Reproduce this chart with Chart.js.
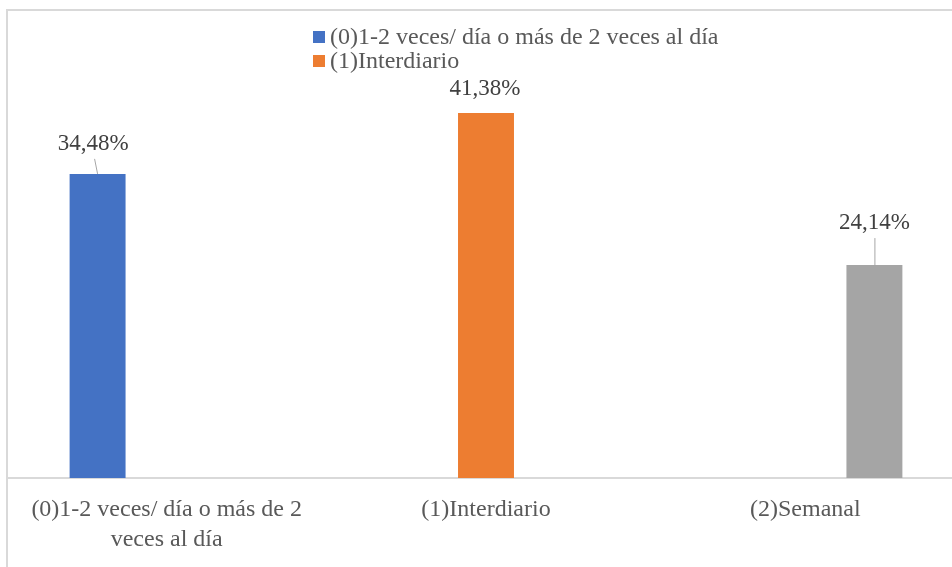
<!DOCTYPE html>
<html>
<head>
<meta charset="utf-8">
<script src="https://cdn.jsdelivr.net/npm/chart.js@4/dist/chart.umd.min.js"></script>
<style>
  html, body { margin: 0; padding: 0; background: #fff; width: 952px; height: 567px; overflow: hidden; }
  #frame { position: absolute; left: 6px; top: 9px; width: 1200px; height: 800px; border: 2px solid #d9d9d9; box-sizing: border-box; }
  #c { position: absolute; left: 0; top: 0; }
</style>
</head>
<body>
<div id="frame"></div>
<canvas id="c" width="990" height="567"></canvas>
<script>
// Frecuencia de consumo (% de encuestados)
const categories = [
  ['(0)1-2 veces/ día o más de 2', 'veces al día'],
  '(1)Interdiario',
  '(2)Semanal'
];
const seriesNames = [
  '(0)1-2 veces/ día o más de 2 veces al día',
  '(1)Interdiario',
  '(2)Semanal'
];
const frecuenteValues   = [34.48, null, null];
const interdiarioValues = [null, 41.38, null];
const semanalValues     = [null, null, 24.14];
const seriesColors = ['#4472C4', '#ED7D31', '#A5A5A5'];

const SERIF = "'Liberation Serif', 'Times New Roman', serif";

// Labels sit above each bar; long gaps get a thin leader line down to the bar.
// startDx / endDx shift the leader's top and bottom ends horizontally.
const labelPlacement = [
  { dx: -4.5, lift: 30, leader: true,  startDx: -3, endDx: 0 },
  { dx: -1,   lift: 24, leader: false, startDx: 0,  endDx: 0 },
  { dx: 0,    lift: 42, leader: true,  startDx: 0.5, endDx: 0.5 }
];

const fmtPct = v => v.toFixed(2).replace('.', ',') + '%';

const valueLabels = {
  id: 'valueLabels',
  afterDatasetsDraw(chart) {
    const ctx = chart.ctx;
    ctx.save();
    ctx.font = '23px ' + SERIF;
    ctx.textAlign = 'center';
    ctx.textBaseline = 'middle';
    chart.data.datasets.forEach((ds, i) => {
      const meta = chart.getDatasetMeta(i);
      const p = labelPlacement[i];
      ds.data.forEach((v, j) => {
        if (v === null) return;
        const el = meta.data[j];
        const lx = el.x + p.dx;
        const ly = el.y - p.lift;
        if (p.leader) {
          ctx.strokeStyle = '#a6a6a6';
          ctx.lineWidth = 1;
          ctx.beginPath();
          ctx.moveTo(el.x + p.startDx, ly + 15);
          ctx.lineTo(el.x + p.endDx, el.y);
          ctx.stroke();
        }
        ctx.fillStyle = '#404040';
        ctx.fillText(fmtPct(v), lx, ly);
      });
    });
    ctx.restore();
  }
};

// Legend box only has room for two rows; the rest is clipped
const boxLegend = {
  id: 'boxLegend',
  afterDraw(chart, args, opts) {
    const ctx = chart.ctx;
    ctx.save();
    ctx.font = opts.fontSize + 'px ' + SERIF;
    ctx.textBaseline = 'middle';
    ctx.textAlign = 'left';
    chart.data.datasets.slice(0, opts.rows).forEach((ds, i) => {
      const y = opts.y + i * opts.rowHeight;
      ctx.fillStyle = ds.backgroundColor;
      ctx.fillRect(opts.x, y - opts.box / 2, opts.box, opts.box);
      ctx.fillStyle = '#595959';
      ctx.fillText(ds.label, opts.x + opts.box + 5, y + 1);
    });
    ctx.restore();
  }
};

const datasets = [frecuenteValues, interdiarioValues, semanalValues].map((vals, i) => ({
  label: seriesNames[i],
  data: vals,
  backgroundColor: seriesColors[i],
  categoryPercentage: 0.649,
  barPercentage: 0.81
}));

new Chart(document.getElementById('c'), {
  type: 'bar',
  data: { labels: categories, datasets },
  options: {
    responsive: false,
    animation: false,
    devicePixelRatio: 1,
    layout: { padding: { left: 7, right: 25, top: 37, bottom: 0 } },
    plugins: {
      legend: { display: false },
      tooltip: { enabled: false },
      boxLegend: { x: 313, y: 37, rowHeight: 24, rows: 2, box: 12, fontSize: 24 }
    },
    scales: {
      x: {
        grid: { display: false, drawTicks: false },
        border: { display: true, color: '#d9d9d9', width: 2 },
        ticks: {
          color: '#595959',
          font: { family: SERIF, size: 24, lineHeight: 1.25 },
          padding: 17,
          maxRotation: 0,
          autoSkip: false
        },
        afterFit(axis) { axis.height = 89; }
      },
      y: {
        display: false,
        min: 0,
        max: 50
      }
    }
  },
  plugins: [valueLabels, boxLegend]
});
</script>
</body>
</html>
